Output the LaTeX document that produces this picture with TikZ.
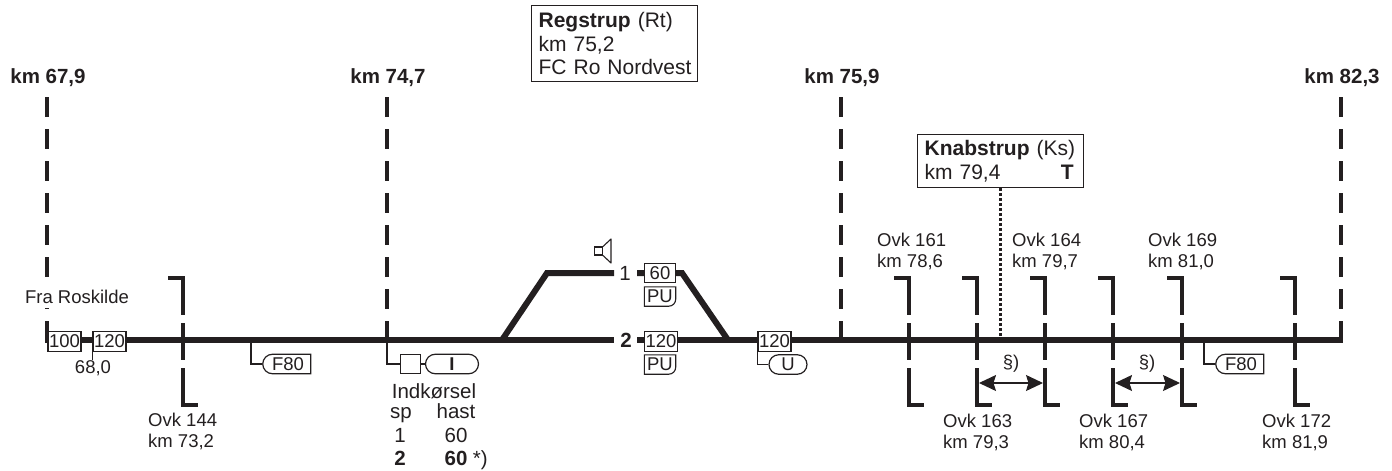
\documentclass[tikz,border=0pt]{standalone}
\usepackage{fontspec}
\setmainfont{Liberation Sans}
\usepackage{tikz}
\usetikzlibrary{calc, positioning, arrows.meta, shapes.misc}
\definecolor{linecolor}{RGB}{35, 31, 32}
\tikzset{
    track/.style={linecolor, line width=6pt},
    thin line/.style={linecolor, line width=1.1pt},
    kmline/.style={linecolor, line width=4pt, dash pattern=on 20pt off 12pt},
    ovkline/.style={linecolor, line width=4pt},
    label/.style={text=linecolor, font=\fontsize{18.5}{21}\selectfont, inner sep=0pt},
    kmlabel/.style={label, font=\fontsize{20.5}{23}\selectfont\bfseries},
    tablelabel/.style={label, font=\fontsize{20.5}{23}\selectfont, anchor=base},
    infobox/.style={draw=linecolor, line width=1.2pt, fill=white, align=left, text=linecolor, font=\fontsize{21}{23.7}\selectfont, inner ysep=0pt, inner xsep=7pt, anchor=north west},
    signbox/.style={draw=linecolor, line width=1.2pt, fill=white, text=linecolor, font=\fontsize{18.5}{20}\selectfont, inner sep=0pt, minimum height=19.5pt},
    pillbox/.style={signbox, rounded rectangle},
    halfpill/.style={signbox, rounded rectangle, rounded rectangle east arc=none},
}
\begin{document}
\begin{tikzpicture}[x=1pt, y=-1pt, >={Stealth[length=17pt, width=16pt, inset=2.5pt]}]
    \useasboundingbox (0,0) rectangle (1392,471);

    % --- Section limits ---
    \foreach \name/\x/\txt in {a/47/67{,}9, b/387/74{,}7, c/841/75{,}9, d/1341/82{,}3}{
        \node[kmlabel] (km\name) at (\x+1,78) {km \txt};
        \coordinate (kmtop\name) at (\x,97);
        \coordinate (kmfoot\name) at (\x,342);
        \draw[kmline] (kmtop\name) -- (kmfoot\name);
    }

    % --- Main line ---
    \coordinate (west) at (45,340);
    \coordinate (east) at (1343,340);
    \coordinate (fork) at (502,340);
    \coordinate (merge) at (728,340);
    \coordinate (twoin) at (614,340);
    \coordinate (twoout) at (637,340);
    \node[label, font=\fontsize{20.5}{23}\selectfont\bfseries] (tracktwo) at (626,340) {2};
    \node[label, font=\fontsize{20.5}{23}\selectfont] (trackone) at (625,273) {1};
    \draw[track] (west) -- (twoin);
    \draw[track] (twoout) -- (east);

    % --- Track 1 ---
    \coordinate (bendw) at (547,273);
    \coordinate (onein) at (614,273);
    \coordinate (oneout) at (637,273);
    \coordinate (bende) at (682,273);
    \draw[track, line join=miter] (fork) -- (bendw) -- (onein);
    \draw[track, line join=miter] (oneout) -- (bende) -- (merge);

    % --- Level crossings ---
    \foreach \name/\x in {a/183, b/909, c/977, d/1045, e/1113, f/1182, g/1295}{
        \coordinate (ovk\name) at (\x,340);
        \draw[ovkline, line join=miter] ($(ovk\name)+(-15,-62)$) -- ($(ovk\name)+(0,-62)$) -- ($(ovk\name)+(0,-25)$);
        \draw[ovkline] ($(ovk\name)+(0,-17)$) -- ($(ovk\name)+(0,20)$);
        \draw[ovkline, line join=miter] ($(ovk\name)+(0,28)$) -- ($(ovk\name)+(0,65)$) -- ($(ovk\name)+(15,65)$);
    }

    % --- Crossing labels ---
    \foreach \name/\x/\y/\nr/\txt in {a/148/431/144/73{,}2, b/877/251/161/78{,}6, c/943/432/163/79{,}3, d/1012/251/164/79{,}7, e/1079/432/167/80{,}4, f/1148/251/169/81{,}0, g/1262/432/172/81{,}9}{
        \node[label, align=left, anchor=west] (ovktxt\name) at (\x,\y) {Ovk \nr\\km \txt};
    }

    % --- Start of line ---
    \node[label, fill=white, minimum height=21pt] (from) at (77,297) {Fra Roskilde};
    \node[signbox, minimum width=33pt] (sa) at (64.5,341.5) {100};
    \node[signbox, minimum width=33pt] (sb) at (109.5,341.5) {120};
    \node[label] (kmstart) at (93,368) {68,0};
    \draw[thin line] (sb.south west) -- (kmstart.north -| sb.south west);

    % --- Speed signs ---
    \node[signbox, minimum width=31pt] (sc) at (660,273) {60};
    \node[signbox, minimum width=33pt] (sd) at (661,341.5) {120};
    \node[signbox, minimum width=33pt] (se) at (774.5,341.5) {120};
    \foreach \name/\y in {pua/296.5, pub/364.5}{
        \node[label, minimum width=31pt, minimum height=19pt] (\name) at (660,\y) {PU};
        \draw[thin line] (\name.north west) -- (\name.north east) [rounded corners=7pt] -- (\name.south east) [sharp corners] -- (\name.south west) -- cycle;
    }

    % --- Signals and slow orders ---
    \node[halfpill, minimum width=48pt] (fa) at (288,364) {F80};
    \node[halfpill, minimum width=48pt] (fb) at (1241,364) {F80};
    \coordinate (fafoot) at (251,340);
    \coordinate (fbfoot) at (1204,340);
    \draw[thin line] (fafoot) |- (fa.west);
    \draw[thin line] (fbfoot) |- (fb.west);
    \node[signbox, minimum size=19.5pt] (sig) at (410.5,364) {};
    \node[pillbox, minimum width=53pt, font=\fontsize{18.5}{20}\selectfont\bfseries] (sigi) at (452,364) {I};
    \draw[thin line] (kmfootb) |- (sig.west);
    \draw[thin line] (sig.east) -- (sigi.west);
    \node[pillbox, minimum width=38pt] (sigu) at (788,364.5) {U};
    \draw[thin line] (se.south west) |- (sigu.west);

    % --- Speaker ---
    \node[draw=linecolor, line width=1.2pt, minimum size=8pt, inner sep=0pt] (horn) at (598.5,251) {};
    \draw[thin line, line join=round] (horn.north east) -- (611,239) -- (611,263) -- (horn.south east);

    % --- Entry table ---
    \node[tablelabel] (entry) at (434,398) {Indkørsel};
    \node[tablelabel] (sp) at (401,418) {sp};
    \node[tablelabel] (hast) at (456,418) {hast};
    \node[tablelabel] (spa) at (400,442) {1};
    \node[tablelabel] (hasta) at (456,442) {60};
    \node[tablelabel, font=\fontsize{20.5}{23}\selectfont\bfseries] (spb) at (400,465.5) {2};
    \node[tablelabel, font=\fontsize{20.5}{23}\selectfont\bfseries] (hastb) at (456,465.5) {60};
    \node[tablelabel, anchor=base west] (note) at ($(hastb.base east)+(5,0)$) {*)};

    % --- Stations ---
    \node[infobox, minimum width=166pt, minimum height=76pt, text width=152pt] (regstrup) at (531,5) {\textbf{Regstrup} (Rt)\\km 75,2\\\mbox{FC Ro Nordvest}};
    \node[infobox, minimum width=166pt, minimum height=53pt, text width=152pt] (knabstrup) at (917,134) {\mbox{\textbf{Knabstrup} (Ks)}\\km 79,4\hfill\textbf{T}\hspace*{3pt}};
    \coordinate (knabfoot) at (1000,340);
    \draw[linecolor, line width=3pt, dash pattern=on 2.5pt off 2.5pt] (knabstrup.south -| knabfoot) -- (knabfoot);

    % --- Sections with note ---
    \coordinate (arrowa) at ($(ovkc)+(2,43)$);
    \coordinate (arrowb) at ($(ovkd)+(-2,43)$);
    \coordinate (arrowc) at ($(ovke)+(2,43)$);
    \coordinate (arrowd) at ($(ovkf)+(-2,43)$);
    \draw[thin line, <->] (arrowa) -- (arrowb);
    \draw[thin line, <->] (arrowc) -- (arrowd);
    \node[label] (notea) at (1011,364) {§)};
    \node[label] (noteb) at (1147,364) {§)};

\end{tikzpicture}
\end{document}
